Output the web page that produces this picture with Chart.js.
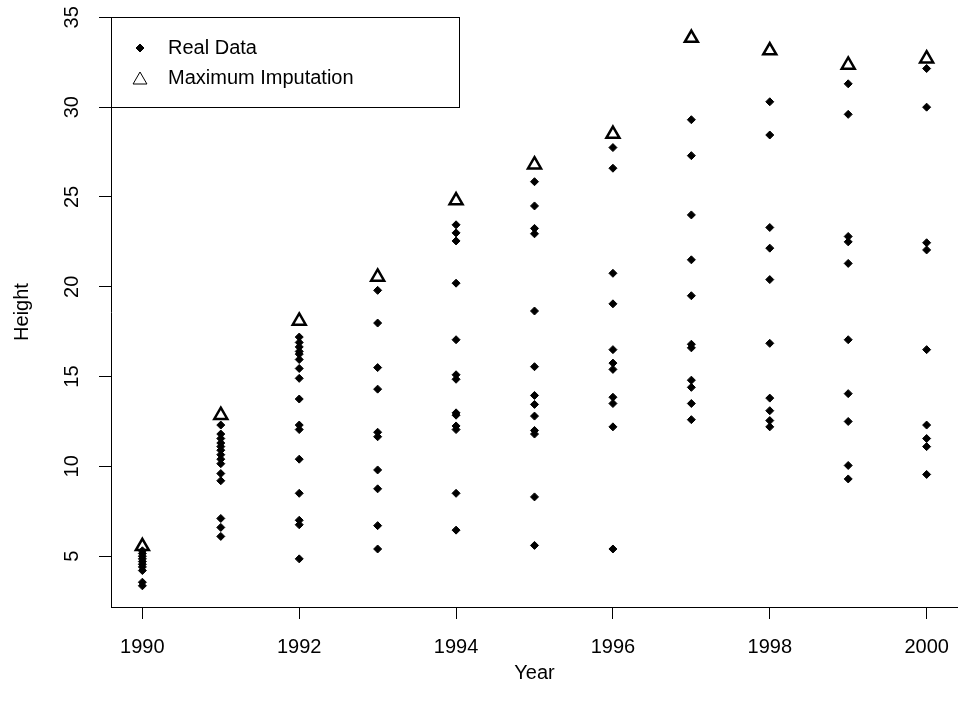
<!DOCTYPE html>
<html>
<head>
<meta charset="utf-8">
<script src="https://cdn.jsdelivr.net/npm/chart.js@4/dist/chart.umd.min.js"></script>
<style>
  body { margin: 0; background: #fff; }
  canvas { display: block; }
</style>
</head>
<body>
<canvas id="plot" width="958" height="715"></canvas>
<script>
// heights per year (real data)
const years = [1990, 1991, 1992, 1993, 1994, 1995, 1996, 1997, 1998, 1999, 2000];
const h1990 = [5.3, 5.15, 5.0, 4.85, 4.7, 4.55, 4.4, 4.2, 3.55, 3.35];
const h1991 = [12.3, 11.8, 11.55, 11.3, 11.1, 10.9, 10.65, 10.4, 10.15, 9.6, 9.2, 7.1, 6.6, 6.1];
const h1992 = [17.2, 16.9, 16.65, 16.4, 16.25, 15.95, 15.45, 14.9, 13.75, 12.3, 12.05, 10.4, 8.5, 7.0, 6.75, 4.85];
const h1993 = [19.8, 17.98, 15.5, 14.3, 11.9, 11.65, 9.8, 8.75, 6.7, 5.4];
const h1994 = [23.45, 23.0, 22.55, 20.2, 17.05, 15.1, 14.85, 12.98, 12.85, 12.25, 12.05, 8.5, 6.45];
const h1995 = [25.85, 24.5, 23.25, 22.95, 18.65, 15.55, 13.95, 13.45, 12.8, 12.0, 11.8, 8.3, 5.6];
const h1996 = [27.75, 26.6, 20.75, 19.05, 16.5, 15.75, 15.4, 13.85, 13.5, 12.2, 5.4];
const h1997 = [29.3, 27.3, 24.0, 21.5, 19.5, 16.8, 16.6, 14.8, 14.4, 13.5, 12.6];
const h1998 = [30.3, 28.45, 23.3, 22.15, 20.4, 16.85, 13.8, 13.1, 12.55, 12.2];
const h1999 = [31.3, 29.6, 22.8, 22.5, 21.3, 17.05, 14.05, 12.5, 10.05, 9.3];
const h2000 = [32.15, 30.0, 22.45, 22.05, 16.5, 12.3, 11.55, 11.1, 9.55];
// maximum imputation, one per year
const maxImputation = [5.55, 12.85, 18.1, 20.55, 24.8, 26.8, 28.5, 33.85, 33.15, 32.35, 32.7];

const yTicks = [5, 10, 15, 20, 25, 30, 35];
const xTicks = [1990, 1992, 1994, 1996, 1998, 2000];

const heightsByYear = [h1990, h1991, h1992, h1993, h1994, h1995, h1996, h1997, h1998, h1999, h2000];
const realPoints = [];
heightsByYear.forEach((hs, i) => {
  hs.forEach(h => realPoints.push({ x: years[i], y: h }));
});
const maxPoints = maxImputation.map((h, i) => ({ x: years[i], y: h }));

const FONT = "'Liberation Sans', Arial, Helvetica, sans-serif";

// y tick labels in R style (rotated, reading upwards)
const rotatedYLabels = {
  id: 'rotatedYLabels',
  afterDraw(chart) {
    const ctx = chart.ctx;
    const ys = chart.scales.y;
    ctx.save();
    ctx.fillStyle = '#000';
    ctx.font = '20px ' + FONT;
    ctx.textAlign = 'center';
    ctx.textBaseline = 'middle';
    yTicks.forEach(v => {
      const py = ys.getPixelForValue(v);
      ctx.save();
      ctx.translate(72, py);
      ctx.rotate(-Math.PI / 2);
      ctx.fillText(String(v), 0, 0);
      ctx.restore();
    });
    ctx.restore();
  }
};

// boxed legend in the top-left corner of the plot
const boxLegend = {
  id: 'boxLegend',
  afterDraw(chart) {
    const ctx = chart.ctx;
    const area = chart.chartArea;
    const left = area.left, top = area.top;
    const w = 348, h = 90;
    ctx.save();
    ctx.strokeStyle = '#000';
    ctx.lineWidth = 1;
    ctx.strokeRect(Math.round(left) + 0.5, Math.round(top) + 0.5, w, h);

    ctx.fillStyle = '#000';
    Chart.helpers.drawPoint(ctx, { pointStyle: 'rectRot', radius: 4, borderWidth: 1 }, left + 29, top + 31);
    ctx.fillStyle = 'rgba(0,0,0,0)';
    ctx.lineWidth = 1;
    Chart.helpers.drawPoint(ctx, { pointStyle: 'triangle', radius: 8, borderWidth: 1 }, left + 29, top + 63);

    ctx.fillStyle = '#000';
    ctx.font = '20px ' + FONT;
    ctx.textAlign = 'left';
    ctx.textBaseline = 'middle';
    ctx.fillText('Real Data', left + 57, top + 31);
    ctx.fillText('Maximum Imputation', left + 57, top + 61);
    ctx.restore();
  }
};

new Chart(document.getElementById('plot'), {
  type: 'scatter',
  data: {
    datasets: [
      {
        label: 'Maximum Imputation',
        data: maxPoints,
        order: 0,
        pointStyle: 'triangle',
        pointRadius: 7.5,
        pointBackgroundColor: 'rgba(0,0,0,0)',
        pointBorderColor: '#000',
        pointBorderWidth: 2.5
      },
      {
        label: 'Real Data',
        data: realPoints,
        order: 1,
        pointStyle: 'rectRot',
        pointRadius: 4,
        pointBackgroundColor: '#000',
        pointBorderColor: '#000',
        pointBorderWidth: 1
      }
    ]
  },
  options: {
    responsive: false,
    devicePixelRatio: 1,
    animation: false,
    layout: { autoPadding: false, padding: { top: 17, left: 0, right: 0, bottom: 0 } },
    plugins: {
      legend: { display: false },
      tooltip: { enabled: false }
    },
    scales: {
      x: {
        type: 'linear',
        position: 'bottom',
        min: 1989.6,
        max: 2000.4,
        afterFit: s => { s.height = 108; s.paddingLeft = 0; s.paddingRight = 0; },
        afterBuildTicks: s => { s.ticks = xTicks.map(v => ({ value: v })); },
        grid: { drawOnChartArea: false, drawTicks: true, tickLength: 12, color: '#000', tickColor: '#000' },
        border: { display: true, color: '#000', width: 1 },
        ticks: {
          font: { size: 20, family: FONT },
          color: '#000',
          padding: 16,
          maxRotation: 0,
          autoSkip: false,
          callback: v => String(v)
        },
        title: {
          display: true,
          text: 'Year',
          color: '#000',
          font: { size: 20, family: FONT },
          padding: { top: 0, bottom: 30 }
        }
      },
      y: {
        type: 'linear',
        position: 'left',
        min: 2.17,
        max: 35.02,
        afterFit: s => { s.width = 111; },
        afterBuildTicks: s => { s.ticks = yTicks.map(v => ({ value: v })); },
        grid: { drawOnChartArea: false, drawTicks: true, tickLength: 12, color: '#000', tickColor: '#000' },
        border: { display: true, color: '#000', width: 1 },
        ticks: { display: false },
        title: {
          display: true,
          text: 'Height',
          color: '#000',
          font: { size: 20, family: FONT },
          padding: { top: 10, bottom: 0 }
        }
      }
    }
  },
  plugins: [rotatedYLabels, boxLegend]
});
</script>
</body>
</html>
